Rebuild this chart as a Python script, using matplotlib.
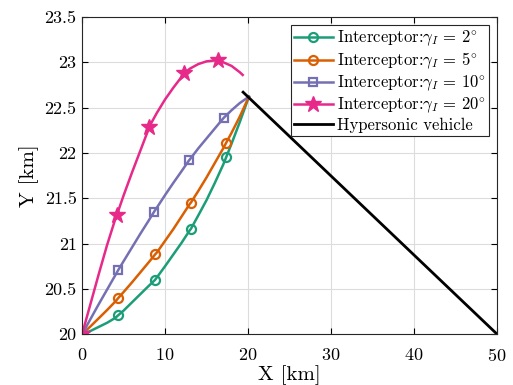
import numpy as np
import matplotlib.pyplot as plt

plt.rcParams['font.family'] = 'serif'
plt.rcParams['font.serif'] = ['cmr10', 'DejaVu Serif']
plt.rcParams['mathtext.fontset'] = 'cm'
plt.rcParams['axes.formatter.use_mathtext'] = True

# trajectories (km)
x_g2 = [0, 1, 2, 3, 4, 4.37, 5, 6, 7, 8, 8.8, 9, 10, 11, 12, 13, 13.1,
        14, 15, 16, 17, 17.35, 18, 19, 20.1]
y_g2 = [20.00, 20.035, 20.08, 20.125, 20.18, 20.21, 20.26, 20.35, 20.44, 20.53,
        20.60, 20.625, 20.75, 20.88, 21.01, 21.15, 21.16, 21.31, 21.48, 21.67,
        21.87, 21.95, 22.10, 22.34, 22.62]
m_g2 = [0, 5, 10, 16, 21]

x_g5 = [0, 1, 2, 3, 4, 4.37, 5, 6, 7, 8, 8.8, 9, 10, 11, 12, 13, 13.1,
        14, 15, 16, 17, 17.35, 18, 19, 20.1]
y_g5 = [20.00, 20.085, 20.175, 20.265, 20.36, 20.40, 20.465, 20.57, 20.68, 20.79,
        20.88, 20.90, 21.03, 21.16, 21.30, 21.44, 21.45, 21.58, 21.73, 21.89,
        22.05, 22.11, 22.22, 22.40, 22.62]
m_g5 = [0, 5, 10, 16, 21]

x_g10 = [0, 1, 2, 3, 4, 4.37, 5, 6, 7, 8, 8.67, 9, 10, 11, 12, 12.9, 13,
         14, 15, 16, 17, 17.1, 18, 19, 20.1]
y_g10 = [20.00, 20.165, 20.33, 20.49, 20.65, 20.71, 20.805, 20.955, 21.105, 21.25,
         21.35, 21.395, 21.535, 21.67, 21.80, 21.92, 21.93, 22.05, 22.16, 22.27,
         22.38, 22.39, 22.47, 22.55, 22.62]
m_g10 = [0, 5, 10, 15, 21]

x_g20 = [0, 1, 2, 3, 4, 4.17, 5, 6, 7, 8, 8.1, 9, 10, 11, 12, 12.3, 13,
         14, 15, 16, 16.4, 17, 18, 19, 19.35]
y_g20 = [20.00, 20.33, 20.66, 20.98, 21.27, 21.31, 21.53, 21.78, 22.02, 22.26,
         22.29, 22.44, 22.59, 22.72, 22.84, 22.88, 22.93, 22.98, 23.01, 23.02,
         23.02, 23.00, 22.96, 22.89, 22.86]
m_g20 = [0, 5, 10, 15, 20]

x_hv = [19.4, 50]
y_hv = [22.67, 20]

fig = plt.figure(figsize=(5.13, 3.85), dpi=100)
ax = fig.add_axes([0.16, 0.132, 0.809, 0.824])

ax.plot(x_g2, y_g2, color='#1b9e77', lw=1.8, marker='o', mfc='none', ms=6.5, mew=1.6,
        markevery=m_g2, label=r'Interceptor:$\gamma_I\,=\,2^{\circ}$')
ax.plot(x_g5, y_g5, color='#d95f02', lw=1.8, marker='o', mfc='none', ms=6.5, mew=1.6,
        markevery=m_g5, label=r'Interceptor:$\gamma_I\,=\,5^{\circ}$')
ax.plot(x_g10, y_g10, color='#7570b3', lw=1.8, marker='s', mfc='none', ms=6, mew=1.6,
        markevery=m_g10, label=r'Interceptor:$\gamma_I\,=\,10^{\circ}$')
ax.plot(x_g20, y_g20, color='#e7298a', lw=1.8, marker='*', ms=12,
        markevery=m_g20, label=r'Interceptor:$\gamma_I\,=\,20^{\circ}$')
ax.plot(x_hv, y_hv, color='black', lw=2, label='Hypersonic vehicle')

ax.set_xlim(0, 50)
ax.set_ylim(20, 23.5)
ax.set_xticks(np.arange(0, 51, 10))
ax.set_yticks(np.arange(20, 23.51, 0.5))
ax.set_yticklabels(['20', '20.5', '21', '21.5', '22', '22.5', '23', '23.5'])
ax.grid(True, color='#dcdcdc', lw=0.8)
ax.set_axisbelow(True)
ax.tick_params(direction='in', labelsize=13, top=True, right=True, length=4, pad=4)
ax.tick_params(axis='x', pad=9)
for s in ax.spines.values():
    s.set_color('#262626')
ax.set_xlabel('X [km]', fontsize=15, labelpad=1)
ax.set_ylabel('Y [km]', fontsize=15, labelpad=4)

leg = ax.legend(loc='upper right', fontsize=12, frameon=True, fancybox=False,
                edgecolor='#262626', framealpha=1, borderpad=0.2, labelspacing=0.15,
                handlelength=2.3, handletextpad=0.25, borderaxespad=0.5)
leg.get_frame().set_linewidth(0.8)

fig.savefig('out.png', dpi=100)
